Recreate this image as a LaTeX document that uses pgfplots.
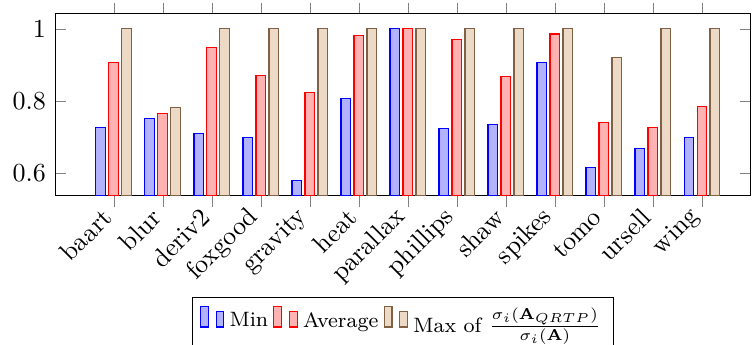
\documentclass[border=0pt]{standalone}
\usepackage{pgfplots}
\pgfplotsset{compat=1.18}
\definecolor{maxedge}{rgb}{0.50,0.38,0.27}
\begin{document}
\begin{tikzpicture}
\begin{axis}[
  name=ax,
  scale only axis,
  width=267.7pt, height=70pt,
  ybar=1.2pt,
  bar width=3.8pt,
  xmin=-1.2, xmax=13,
  ymin=0.538, ymax=1.042,
  xtick={0,1,2,3,4,5,6,7,8,9,10,11,12},
  xticklabels={baart,blur,deriv2,foxgood,gravity,heat,parallax,phillips,shaw,spikes,tomo,ursell,wing},
  ytick={0.6,0.8,1},
  xtick align=outside,
  ytick align=inside,
  x tick label style={rotate=45, anchor=east},
  legend style={at={(0.5,-0.555)}, anchor=north, legend columns=-1, font=\footnotesize},
]
% smallest ratio over the test matrices
\addplot[draw=blue, fill=blue!30] coordinates {
  (0,0.726) (1,0.752) (2,0.710) (3,0.699) (4,0.580) (5,0.808) (6,1.000)
  (7,0.723) (8,0.736) (9,0.907) (10,0.617) (11,0.669) (12,0.699)};
% mean ratio
\addplot[draw=red, fill=red!30] coordinates {
  (0,0.907) (1,0.767) (2,0.949) (3,0.871) (4,0.823) (5,0.982) (6,1.000)
  (7,0.972) (8,0.867) (9,0.986) (10,0.742) (11,0.726) (12,0.786)};
% largest ratio
\addplot[draw=maxedge, fill=brown!30] coordinates {
  (0,1.000) (1,0.782) (2,1.000) (3,1.000) (4,1.000) (5,1.000) (6,1.000)
  (7,1.000) (8,1.000) (9,1.000) (10,0.921) (11,1.000) (12,1.000)};
\legend{Min, Average, Max of $\frac{\sigma_i(\mathbf{A}_{QRTP})}{\sigma_i(\mathbf{A})}$}
\end{axis}
% frame the page tightly around the axis, its labels and the legend
\pgfresetboundingbox
\path[use as bounding box]
  ([xshift=-21.2pt,yshift=-57.3pt]ax.south west) rectangle
  ([xshift=0.4pt,yshift=5.3pt]ax.north east);
\end{tikzpicture}
\end{document}
